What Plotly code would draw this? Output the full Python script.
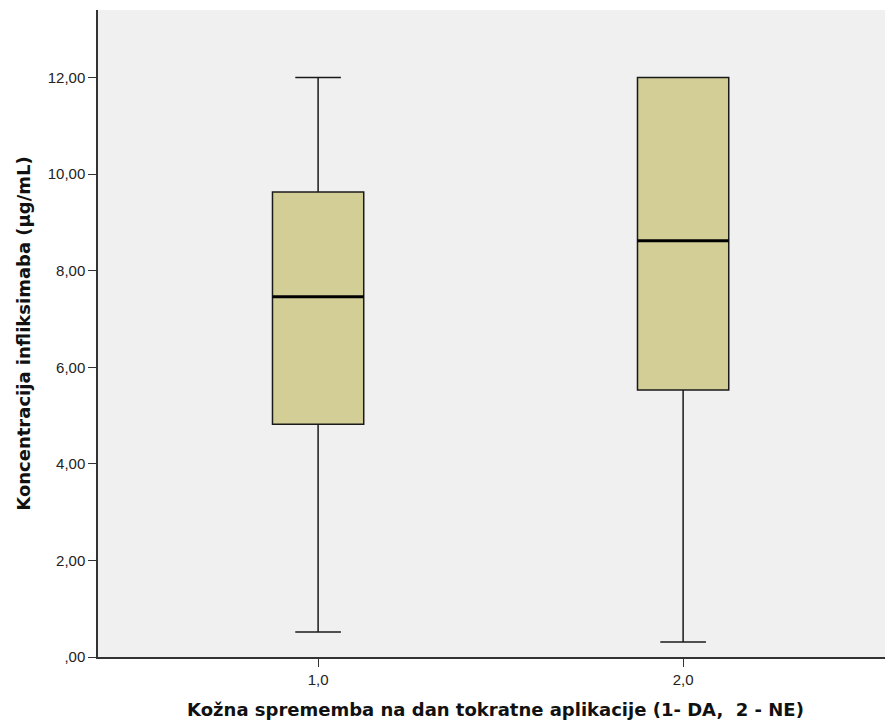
import plotly.graph_objects as go

groups = [1.0, 2.0]
group_labels = ["1,0", "2,0"]
lower_whisker = [0.52, 0.31]
q1 = [4.82, 5.53]
median = [7.46, 8.62]
q3 = [9.63, 12.0]
upper_whisker = [12.0, 12.0]

y_ticks = [0, 2, 4, 6, 8, 10, 12]
y_tick_labels = [",00", "2,00", "4,00", "6,00", "8,00", "10,00", "12,00"]

box_w = 0.25
fill = "#D2CE96"
line_c = "#1a1a1a"

fig = go.Figure()
fig.add_trace(go.Box(
    x=groups, q1=q1, median=median, q3=q3,
    lowerfence=lower_whisker, upperfence=upper_whisker,
    width=box_w, whiskerwidth=0.5,
    fillcolor=fill, line=dict(color=line_c, width=1.5),
    boxpoints=False, showlegend=False, hoverinfo="skip",
))
for g, m in zip(groups, median):
    fig.add_trace(go.Scatter(
        x=[g - box_w / 2, g + box_w / 2], y=[m, m], mode="lines",
        line=dict(color="black", width=3), showlegend=False, hoverinfo="skip",
    ))

font_t = "DejaVu Sans, Verdana, sans-serif"
fig.update_layout(
    width=885, height=712,
    margin=dict(l=90, r=0, t=2, b=63),
    paper_bgcolor="white", plot_bgcolor="#F0F0F0",
    font=dict(family="Liberation Sans, Arial, sans-serif", size=15, color="#222"),
    xaxis=dict(
        range=[0.397, 2.575], tickvals=groups, ticktext=group_labels,
        showgrid=False, zeroline=False, showline=True, linecolor="#333", linewidth=1.5,
        ticks="outside", ticklen=8, tickcolor="#333",
        title=dict(text="<b>Kožna sprememba na dan tokratne aplikacije (1- DA,  2 - NE)</b>",
                   font=dict(family=font_t, size=18, color="#111"), standoff=17),
    ),
    yaxis=dict(
        range=[0, 13.4], tickvals=y_ticks, ticktext=y_tick_labels,
        showgrid=False, zeroline=False, showline=True, linecolor="#333", linewidth=1.5,
        ticks="outside", ticklen=8, tickcolor="#333",
        title=dict(text="<b>Koncentracija infliksimaba (µg/mL)</b>",
                   font=dict(family=font_t, size=18, color="#111"), standoff=12),
    ),
)
fig.write_html("out.html")
